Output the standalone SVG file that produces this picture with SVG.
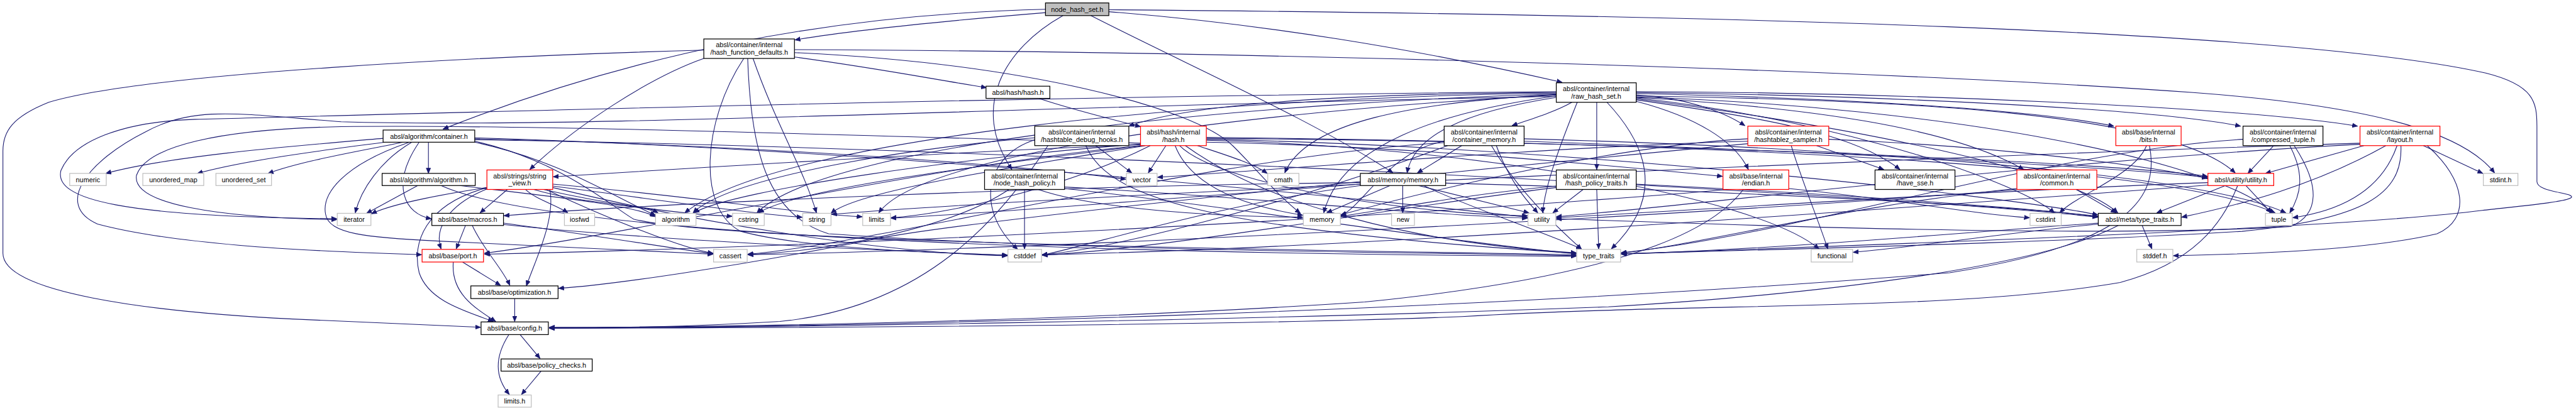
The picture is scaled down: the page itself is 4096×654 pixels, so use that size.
<svg xmlns="http://www.w3.org/2000/svg" width="4096" height="654" viewBox="0 0 4096 654">
<defs>
<marker id="arr" markerUnits="userSpaceOnUse" markerWidth="12" markerHeight="10" refX="11" refY="5" orient="auto" viewBox="0 0 12 10"><path d="M0,0.5 L11,5 L0,9.5 z" fill="#191970" stroke="#191970" stroke-width="1"/></marker>
<style>
.node text{font-family:"Liberation Sans",Arial,sans-serif;font-size:14px;fill:#000;text-anchor:middle}
.b{fill:#fff;stroke:#000;stroke-width:1.6}
.r{fill:#fff;stroke:#ff0000;stroke-width:1.6}
.g{fill:#fff;stroke:#bfbfbf;stroke-width:1.6}
.root{fill:#bfbfbf;stroke:#000;stroke-width:1.6}
#edges path{fill:none;stroke:#191970;stroke-width:1.4;marker-end:url(#arr)}
</style>
</defs>
<rect width="4096" height="654" fill="#fff"/>
<g transform="scale(0.775)">
<g id="edges">
<path d="M2145,19 C1700,30 1300,110 909,265"/>
<path d="M2145,26 C1950,42 1750,62 1631,82"/>
<path d="M2181,32 C2060,100 1990,220 2076,348"/>
<path d="M2238,32 C2450,140 2700,250 2858,355"/>
<path d="M2275,24 C2600,50 2900,100 3205,169"/>
<path d="M2275,20 C3500,30 4700,60 5100,150 C5200,175 5205,210 5205,260 L5205,373 C5205,395 5280,395 5276,405 C5270,415 5150,425 5093,432 C4800,470 3800,505 3327,521"/>
<path d="M1444,103 C1000,115 300,150 100,210 C25,240 6,270 6,310 L6,520 C6,600 300,640 600,655 C800,665 900,669 986,672"/>
<path d="M1444,120 C1330,160 1180,260 1087,348"/>
<path d="M1630,102 C2500,105 3800,140 4500,190 C4900,220 5060,280 5118,355"/>
<path d="M1630,117 C1800,140 1900,160 2024,180"/>
<path d="M1630,108 C2100,130 2450,220 2530,300 C2590,360 2620,400 2668,438"/>
<path d="M1526,120 C1440,250 1430,430 1520,475 C1650,510 1900,518 2067,524"/>
<path d="M1534,120 C1540,300 1570,440 1700,480 C2200,515 2900,518 3234,525"/>
<path d="M1545,120 C1590,250 1650,350 1675,437"/>
<path d="M3225,210 C3190,230 3140,245 3102,258"/>
<path d="M3276,210 L3276,348"/>
<path d="M3357,195 C3450,200 3530,225 3580,258"/>
<path d="M3357,192 C3700,200 4150,220 4337,259"/>
<path d="M3357,190 C3800,195 4400,220 4597,259"/>
<path d="M3357,188 C3900,190 4600,220 4837,259"/>
<path d="M3357,205 C3600,240 3800,270 3898,348"/>
<path d="M3357,200 C3700,220 4000,260 4152,348"/>
<path d="M3357,208 C3480,240 3560,290 3587,348"/>
<path d="M3357,197 C3900,205 4450,230 4586,355"/>
<path d="M3357,203 C3800,260 4250,350 4345,437"/>
<path d="M3357,201 C3800,250 4150,380 4215,437"/>
<path d="M3357,199 C4000,220 4550,330 4662,437"/>
<path d="M3236,210 C3200,300 3170,380 3165,437"/>
<path d="M3297,210 C3400,320 3400,420 3306,511"/>
<path d="M3193,200 C3000,230 2900,280 2887,355"/>
<path d="M3193,197 C2950,230 2750,300 2716,437"/>
<path d="M3193,194 C2900,210 2680,250 2636,355"/>
<path d="M3193,190 C2800,192 2450,210 2316,259"/>
<path d="M3193,191 C2500,200 1600,280 1405,437"/>
<path d="M3193,193 C2600,210 1700,290 1553,437"/>
<path d="M3193,195 C2700,220 1900,300 1803,437"/>
<path d="M3193,188 C2000,200 1000,230 400,245 C250,250 150,290 125,350 C110,410 250,445 691,449"/>
<path d="M3193,198 C2200,215 1200,265 700,250 C500,235 400,215 300,270 C180,330 110,420 200,460 C350,500 600,515 865,523"/>
<path d="M2131,202 C2200,225 2280,245 2340,260"/>
<path d="M786,284 C600,300 350,320 217,356"/>
<path d="M790,292 C650,310 500,330 405,356"/>
<path d="M827,292 C740,310 620,330 550,356"/>
<path d="M879,292 L879,356"/>
<path d="M845,292 C780,330 740,390 729,437"/>
<path d="M860,292 C800,380 830,440 885,449"/>
<path d="M974,292 C1150,330 1250,400 1345,442"/>
<path d="M840,292 C700,340 660,400 668,440 C675,480 750,488 900,495 C1150,508 1350,518 1463,522"/>
<path d="M974,290 C1150,330 1250,420 1300,450 C1500,500 2800,515 3234,523"/>
<path d="M974,283 C1900,310 2900,420 3134,446"/>
<path d="M974,285 C1600,300 2100,340 2310,368"/>
<path d="M974,287 C2000,300 3900,400 4304,446"/>
<path d="M2248,299 L2322,355"/>
<path d="M2123,287 C2020,320 2000,430 2088,512"/>
<path d="M2123,283 C1900,300 1500,360 1422,437"/>
<path d="M2228,299 C2270,400 2450,470 3234,520"/>
<path d="M2150,299 C2050,450 1900,630 1600,660 C1400,672 1250,673 1127,673"/>
<path d="M2392,299 L2356,355"/>
<path d="M2457,299 C2520,320 2570,335 2600,356"/>
<path d="M2340,297 C2000,310 1500,340 1135,363"/>
<path d="M2340,294 C1800,280 1100,255 700,260 C450,265 300,300 280,360 C270,420 450,447 691,451"/>
<path d="M2340,299 C1900,340 1300,480 994,520"/>
<path d="M2340,296 C2000,320 1500,390 1424,437"/>
<path d="M2345,299 C2100,330 1650,380 1556,437"/>
<path d="M2350,299 C2100,340 1760,390 1705,438"/>
<path d="M2360,299 C2200,380 1950,440 1828,447"/>
<path d="M2411,299 C2450,400 2600,430 2673,442"/>
<path d="M2475,288 C3000,300 3600,400 3732,511"/>
<path d="M2475,282 C3200,290 4400,320 4668,437"/>
<path d="M2432,299 C2600,420 2900,500 3234,519"/>
<path d="M2420,299 C2500,380 2900,440 3134,443"/>
<path d="M2475,292 C2900,300 3300,340 3534,362"/>
<path d="M2475,286 C3200,300 4100,400 4304,441"/>
<path d="M2475,284 C3300,290 4300,330 4529,362"/>
<path d="M2999,299 L2908,355"/>
<path d="M2963,290 C2850,310 2800,420 2751,443"/>
<path d="M2963,293 C2500,320 1800,500 1534,522"/>
<path d="M2970,299 C2700,400 2300,510 2138,523"/>
<path d="M3060,299 C3120,400 3200,470 3245,512"/>
<path d="M3070,299 C3100,380 3140,420 3155,437"/>
<path d="M3127,285 C3700,300 4500,350 4690,437"/>
<path d="M3127,290 C3700,310 4300,340 4529,364"/>
<path d="M3727,299 L3865,348"/>
<path d="M3675,299 C3700,380 3730,450 3750,511"/>
<path d="M3586,285 C3300,300 2900,400 2751,441"/>
<path d="M3586,290 C3200,300 2600,350 2375,364"/>
<path d="M3586,295 C3000,350 2000,450 1800,490 C1500,550 1250,585 1146,592"/>
<path d="M3752,286 C4100,300 4400,340 4529,366"/>
<path d="M4404,299 C4380,360 4260,400 4226,437"/>
<path d="M4410,299 C4430,400 4380,500 4000,560 C3000,640 1800,672 1127,674"/>
<path d="M4665,299 L4612,356"/>
<path d="M4698,299 C4730,360 4720,400 4698,437"/>
<path d="M4602,286 C4200,310 3700,480 3326,519"/>
<path d="M4707,299 C4760,380 4760,440 4700,465 C4300,490 3500,460 3193,449"/>
<path d="M4972,299 L5094,356"/>
<path d="M4850,299 L4648,356"/>
<path d="M4895,299 C4750,380 4600,420 4476,446"/>
<path d="M4918,299 C4890,380 4820,430 4704,447"/>
<path d="M4926,299 C4930,400 4850,450 4600,475 C4200,500 3500,515 3326,522"/>
<path d="M4980,299 C5060,370 5070,450 5000,480 C4850,515 4600,522 4459,525"/>
<path d="M4842,294 C4000,320 2200,400 1706,440"/>
<path d="M4846,296 C4200,330 3500,420 3193,445"/>
<path d="M857,381 L752,438"/>
<path d="M943,381 C1100,400 1300,420 1345,445"/>
<path d="M905,381 C1100,470 2000,520 3234,526"/>
<path d="M1041,389 L985,437"/>
<path d="M1078,389 C1100,410 1140,420 1165,437"/>
<path d="M1095,389 C1200,420 1320,420 1350,437"/>
<path d="M1115,389 C1250,420 1400,440 1502,444"/>
<path d="M1134,382 C1350,410 1550,440 1646,446"/>
<path d="M1134,378 C1400,400 1650,440 1769,445"/>
<path d="M1134,385 C1400,450 1800,520 2067,525"/>
<path d="M1120,389 C1250,450 1400,510 1463,520"/>
<path d="M999,385 C900,400 800,420 762,439"/>
<path d="M999,388 C920,420 890,470 905,511"/>
<path d="M1000,385 C870,420 845,500 860,560 C880,620 960,640 1012,660"/>
<path d="M1128,389 C1140,450 1100,530 1080,587"/>
<path d="M2102,389 L2102,511"/>
<path d="M2070,389 C1950,470 1700,515 1534,523"/>
<path d="M2130,389 C2250,430 2500,445 2673,446"/>
<path d="M2184,387 C2500,420 3000,500 3234,521"/>
<path d="M2184,384 C2500,400 2900,440 3134,448"/>
<path d="M2852,381 L2722,437"/>
<path d="M2878,381 L2878,437"/>
<path d="M2910,381 L3137,437"/>
<path d="M2921,381 C3000,420 3150,470 3245,511"/>
<path d="M2791,378 C2500,400 2000,440 1828,448"/>
<path d="M2791,381 C2500,420 2250,500 2138,524"/>
<path d="M2791,375 C2200,380 1300,420 1034,443"/>
<path d="M2966,376 C3500,390 4100,420 4304,444"/>
<path d="M3276,389 L3280,511"/>
<path d="M3248,389 L3186,437"/>
<path d="M3193,382 C3000,400 2850,430 2751,444"/>
<path d="M3193,385 C2900,420 2400,510 2138,524"/>
<path d="M3357,378 C3800,400 4200,430 4304,445"/>
<path d="M3670,387 C3900,410 4050,440 4164,447"/>
<path d="M3577,389 C3530,450 3400,560 2800,620 C2200,660 1500,672 1127,672"/>
<path d="M3545,389 C3200,420 2000,500 994,522"/>
<path d="M4260,389 L4342,437"/>
<path d="M4138,387 C3800,420 3500,500 3326,520"/>
<path d="M4140,389 C3500,440 2200,510 1535,523"/>
<path d="M4608,381 L4660,437"/>
<path d="M4566,381 L4425,437"/>
<path d="M4591,381 C4560,460 4500,540 4350,580 C4000,640 3500,620 3000,650 C2500,670 1600,673 1127,674"/>
<path d="M4530,375 C4100,390 3500,430 3193,447"/>
<path d="M4530,380 C4000,420 2800,510 2138,523"/>
<path d="M4395,463 L4415,511"/>
<path d="M4305,460 C4100,480 3950,505 3802,518"/>
<path d="M4305,458 C4000,480 3600,515 3326,521"/>
<path d="M4346,463 C4200,540 3800,600 3300,630 C2500,660 1600,672 1127,673"/>
<path d="M955,463 L936,511"/>
<path d="M969,463 C990,510 1030,550 1046,586"/>
<path d="M1033,458 C1200,480 1380,510 1463,521"/>
<path d="M1033,461 C1300,490 1800,515 2067,524"/>
<path d="M949,538 L1027,586"/>
<path d="M930,538 C925,600 970,630 1017,660"/>
<path d="M1056,613 L1056,660"/>
<path d="M1044,687 C1010,740 1020,780 1045,810"/>
<path d="M1067,687 L1108,736"/>
<path d="M1110,762 L1070,810"/>
</g>
<g id="n0" class="node"><rect class="root" x="2145" y="6" width="130" height="26"/><text x="2210" y="24">node_hash_set.h</text></g>
<g id="n1" class="node"><rect class="b" x="1444" y="80" width="186" height="40"/><text x="1537" y="97">absl/container/internal</text><text x="1537" y="112">/hash_function_defaults.h</text></g>
<g id="n2" class="node"><rect class="b" x="3193" y="170" width="164" height="40"/><text x="3275" y="187">absl/container/internal</text><text x="3275" y="202">/raw_hash_set.h</text></g>
<g id="n3" class="node"><rect class="b" x="2023" y="177" width="131" height="25"/><text x="2088.5" y="195">absl/hash/hash.h</text></g>
<g id="n4" class="node"><rect class="b" x="786" y="267" width="188" height="25"/><text x="880" y="285">absl/algorithm/container.h</text></g>
<g id="n5" class="node"><rect class="b" x="2123" y="259" width="193" height="40"/><text x="2219.5" y="276">absl/container/internal</text><text x="2219.5" y="291">/hashtable_debug_hooks.h</text></g>
<g id="n6" class="node"><rect class="r" x="2340" y="259" width="135" height="40"/><text x="2407.5" y="276">absl/hash/internal</text><text x="2407.5" y="291">/hash.h</text></g>
<g id="n7" class="node"><rect class="b" x="2963" y="259" width="164" height="40"/><text x="3045" y="276">absl/container/internal</text><text x="3045" y="291">/container_memory.h</text></g>
<g id="n8" class="node"><rect class="r" x="3586" y="259" width="166" height="40"/><text x="3669" y="276">absl/container/internal</text><text x="3669" y="291">/hashtablez_sampler.h</text></g>
<g id="n9" class="node"><rect class="r" x="4341" y="259" width="134" height="40"/><text x="4408" y="276">absl/base/internal</text><text x="4408" y="291">/bits.h</text></g>
<g id="n10" class="node"><rect class="b" x="4602" y="259" width="164" height="40"/><text x="4684" y="276">absl/container/internal</text><text x="4684" y="291">/compressed_tuple.h</text></g>
<g id="n11" class="node"><rect class="r" x="4842" y="259" width="164" height="40"/><text x="4924" y="276">absl/container/internal</text><text x="4924" y="291">/layout.h</text></g>
<g id="n12" class="node"><rect class="g" x="143" y="356" width="75" height="25"/><text x="180.5" y="374">numeric</text></g>
<g id="n13" class="node"><rect class="g" x="293" y="356" width="125" height="25"/><text x="355.5" y="374">unordered_map</text></g>
<g id="n14" class="node"><rect class="g" x="443" y="356" width="114" height="25"/><text x="500" y="374">unordered_set</text></g>
<g id="n15" class="node"><rect class="b" x="784" y="356" width="191" height="25"/><text x="879.5" y="374">absl/algorithm/algorithm.h</text></g>
<g id="n16" class="node"><rect class="r" x="999" y="349" width="135" height="40"/><text x="1066.5" y="366">absl/strings/string</text><text x="1066.5" y="381">_view.h</text></g>
<g id="n17" class="node"><rect class="b" x="2020" y="349" width="164" height="40"/><text x="2102" y="366">absl/container/internal</text><text x="2102" y="381">/node_hash_policy.h</text></g>
<g id="n18" class="node"><rect class="g" x="2311" y="356" width="63" height="25"/><text x="2342.5" y="374">vector</text></g>
<g id="n19" class="node"><rect class="g" x="2601" y="356" width="64" height="25"/><text x="2633" y="374">cmath</text></g>
<g id="n20" class="node"><rect class="b" x="2791" y="356" width="175" height="25"/><text x="2878.5" y="374">absl/memory/memory.h</text></g>
<g id="n21" class="node"><rect class="b" x="3193" y="349" width="164" height="40"/><text x="3275" y="366">absl/container/internal</text><text x="3275" y="381">/hash_policy_traits.h</text></g>
<g id="n22" class="node"><rect class="r" x="3535" y="349" width="135" height="40"/><text x="3602.5" y="366">absl/base/internal</text><text x="3602.5" y="381">/endian.h</text></g>
<g id="n23" class="node"><rect class="b" x="3847" y="349" width="164" height="40"/><text x="3929" y="366">absl/container/internal</text><text x="3929" y="381">/have_sse.h</text></g>
<g id="n24" class="node"><rect class="r" x="4138" y="349" width="164" height="40"/><text x="4220" y="366">absl/container/internal</text><text x="4220" y="381">/common.h</text></g>
<g id="n25" class="node"><rect class="r" x="4530" y="356" width="135" height="25"/><text x="4597.5" y="374">absl/utility/utility.h</text></g>
<g id="n26" class="node"><rect class="g" x="5095" y="356" width="71" height="25"/><text x="5130.5" y="374">stdint.h</text></g>
<g id="n27" class="node"><rect class="g" x="692" y="438" width="69" height="25"/><text x="726.5" y="456">iterator</text></g>
<g id="n28" class="node"><rect class="b" x="886" y="438" width="147" height="25"/><text x="959.5" y="456">absl/base/macros.h</text></g>
<g id="n29" class="node"><rect class="g" x="1158" y="438" width="62" height="25"/><text x="1189" y="456">iosfwd</text></g>
<g id="n30" class="node"><rect class="g" x="1345" y="438" width="83" height="25"/><text x="1386.5" y="456">algorithm</text></g>
<g id="n31" class="node"><rect class="g" x="1503" y="438" width="65" height="25"/><text x="1535.5" y="456">cstring</text></g>
<g id="n32" class="node"><rect class="g" x="1647" y="438" width="58" height="25"/><text x="1676" y="456">string</text></g>
<g id="n33" class="node"><rect class="g" x="1770" y="438" width="57" height="25"/><text x="1798.5" y="456">limits</text></g>
<g id="n34" class="node"><rect class="g" x="2674" y="438" width="76" height="25"/><text x="2712" y="456">memory</text></g>
<g id="n35" class="node"><rect class="g" x="2855" y="438" width="47" height="25"/><text x="2878.5" y="456">new</text></g>
<g id="n36" class="node"><rect class="g" x="3135" y="438" width="57" height="25"/><text x="3163.5" y="456">utility</text></g>
<g id="n37" class="node"><rect class="g" x="4165" y="438" width="64" height="25"/><text x="4197" y="456">cstdint</text></g>
<g id="n38" class="node"><rect class="b" x="4305" y="438" width="170" height="25"/><text x="4390" y="456">absl/meta/type_traits.h</text></g>
<g id="n39" class="node"><rect class="g" x="4648" y="438" width="55" height="25"/><text x="4675.5" y="456">tuple</text></g>
<g id="n40" class="node"><rect class="r" x="866" y="512" width="126" height="26"/><text x="929" y="530">absl/base/port.h</text></g>
<g id="n41" class="node"><rect class="g" x="1464" y="512" width="69" height="26"/><text x="1498.5" y="530">cassert</text></g>
<g id="n42" class="node"><rect class="g" x="2068" y="512" width="69" height="26"/><text x="2102.5" y="530">cstddef</text></g>
<g id="n43" class="node"><rect class="g" x="3235" y="512" width="90" height="26"/><text x="3280" y="530">type_traits</text></g>
<g id="n44" class="node"><rect class="g" x="3716" y="512" width="85" height="26"/><text x="3758.5" y="530">functional</text></g>
<g id="n45" class="node"><rect class="g" x="4384" y="512" width="74" height="26"/><text x="4421" y="530">stddef.h</text></g>
<g id="n46" class="node"><rect class="b" x="966" y="587" width="179" height="26"/><text x="1055.5" y="605">absl/base/optimization.h</text></g>
<g id="n47" class="node"><rect class="b" x="987" y="661" width="138" height="26"/><text x="1056" y="679">absl/base/config.h</text></g>
<g id="n48" class="node"><rect class="b" x="1028" y="737" width="187" height="25"/><text x="1121.5" y="755">absl/base/policy_checks.h</text></g>
<g id="n49" class="node"><rect class="g" x="1022" y="811" width="68" height="25"/><text x="1056" y="829">limits.h</text></g>
</g>
</svg>
